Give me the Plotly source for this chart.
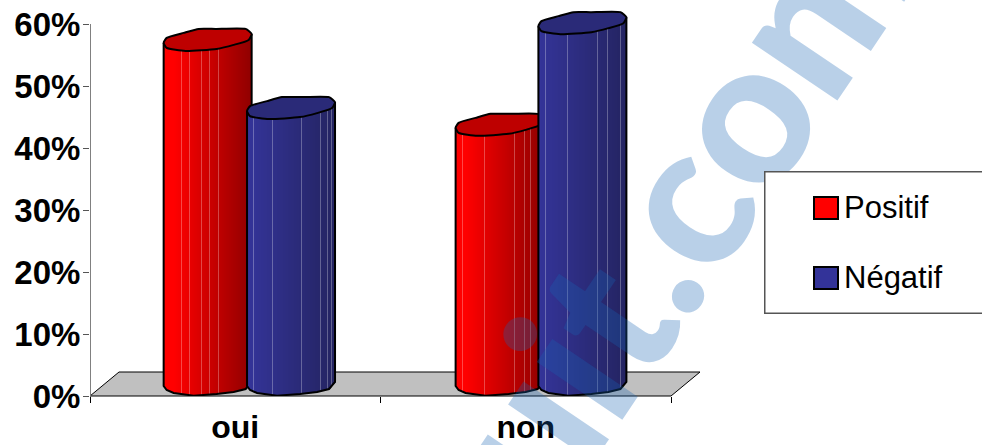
import numpy as np
import plotly.graph_objects as go

# Survey shares per answer, in percent
categories = ["oui", "non"]
series_names = ["Positif", "Négatif"]
positif = [55.5, 41.8]
negatif = [44.5, 58.2]
y_ticks = [0, 10, 20, 30, 40, 50, 60]

# Canvas geometry: one percent is PX_Y pixels tall, the axis stops at 60 %
W, H = 982, 445
LEFT, RIGHT, TOP, BOTTOM = 90, 671, 0, 396
PX_X = (RIGHT - LEFT) / 2
PX_Y = 6.2
FONT = "Liberation Sans"

# Hand-cut outline of a column, in pixels from its centre (y grows downward)
CAP_X = [-44, -41, -24, -9, 8, 38, 44, 41, 26, 9, -22, -41, -44]
CAP_Y = [3, -2, -7, -11, -11, -11, -6, 0, 5, 9, 11, 8, 3]
FOOT_X = [-44, -41, -34, -14, 0, 9, 26, 38, 44]
FOOT_Y = [2, 6, 9, 11.7, 11, 10, 8, 5, -2]
HALF = 44
BASE = 12 / PX_Y


def xp(px):
    return (px - LEFT) / (RIGHT - LEFT)


def yp(py):
    return (BOTTOM - py) / (BOTTOM - TOP)


def mix_white(rgb, k):
    return tuple(c + (255 - c) * k for c in rgb)


def css(rgb):
    return "rgb({:.0f},{:.0f},{:.0f})".format(*rgb)


def red_shade(t):
    return (255 if t < 0.12 else 255 - 110 * (t - 0.12) / 0.88, 0, 0)


def blue_shade(t):
    return (52 - 16 * t, 52 - 16 * t, 153 - 55 * t)


def cylinder(center, value, shade, cap, facets, z):
    """One 3D column: a bar per pixel column for the shading, then outline and cap."""
    top = BASE + value
    n = HALF * 2
    offs = np.arange(n) + 0.5 - HALF
    xs = center + offs / PX_X
    tops = top + (1.5 + 4.5 * offs / HALF) / PX_Y
    bases = BASE - np.interp(offs, FOOT_X, FOOT_Y) / PX_Y
    colors = []
    for i in range(n):
        c = shade(i / (n - 1))
        colors.append(css(mix_white(c, 0.28) if i in facets else c))
    shared = dict(cliponaxis=False, zorder=z, showlegend=False, hoverinfo="skip")
    traces = [go.Bar(x=xs, y=tops - bases, base=bases, width=1.02 / PX_X,
                     marker=dict(color=colors, line=dict(width=0)), **shared)]
    # side walls and rounded foot
    ox = np.r_[-HALF, FOOT_X, HALF]
    oy = np.r_[top - 3 / PX_Y, BASE - np.array(FOOT_Y) / PX_Y, top + 6 / PX_Y]
    traces.append(go.Scatter(x=center + ox / PX_X, y=oy, mode="lines",
                             line=dict(color="black", width=2), **shared))
    # top face
    traces.append(go.Scatter(x=center + np.array(CAP_X) / PX_X,
                             y=top - np.array(CAP_Y) / PX_Y,
                             mode="lines", fill="toself", fillcolor=cap,
                             line=dict(color="black", width=2, shape="spline", smoothing=0.5),
                             **shared))
    return traces


fig = go.Figure()

columns = [
    (0.405, positif[0], red_shade, "#BE0000", {18, 26, 38, 46, 55}, 1),
    (0.692, negatif[0], blue_shade, "#2A2A78", {6, 25, 54, 73, 80, 84}, 2),
    (1.410, positif[1], red_shade, "#BE0000", {7, 29, 59, 69, 75}, 3),
    (1.695, negatif[1], blue_shade, "#2A2A78", {7, 29, 59, 69, 82}, 4),
]
for col in columns:
    for tr in cylinder(*col):
        fig.add_trace(tr)

# Grey floor of the 3D plot and the value axis line, which ends at the top tick
floor = "M {} {} L {} {} L {} {} L {} {} Z".format(
    xp(90), yp(396), xp(119), yp(372), xp(700), yp(372), xp(671), yp(396))
shapes = [
    dict(type="path", path=floor, xref="paper", yref="paper", layer="below",
         fillcolor="#C0C0C0", line=dict(color="black", width=1)),
    dict(type="line", x0=0, x1=0, y0=0, y1=y_ticks[-1], xref="x", yref="y", layer="below",
         line=dict(color="#808080", width=2)),
]

annotations = [
    # Diagonal site watermark
    dict(text="gratuit.com", x=xp(575), y=yp(352), xref="paper", yref="paper",
         xanchor="center", yanchor="middle", textangle=-56, showarrow=False,
         font=dict(family="Lato", size=200, color="rgba(22,98,178,0.3)", weight=900)),
    # Opaque legend panel, running off the right edge
    dict(text=" ", x=xp(764), y=yp(171), xref="paper", yref="paper",
         xanchor="left", yanchor="top", showarrow=False, width=226, height=140,
         bgcolor="white", bordercolor="#555555", borderwidth=1.5, borderpad=0,
         font=dict(size=10)),
]
for name, col, cy in zip(series_names, ["#FF0000", "#333399"], [207.5, 277.5]):
    annotations.append(dict(text=" ", x=xp(826), y=yp(cy), xref="paper", yref="paper",
                            xanchor="center", yanchor="middle", showarrow=False,
                            width=22, height=20, bgcolor=col, bordercolor="black",
                            borderwidth=2, borderpad=0, font=dict(size=10)))
    annotations.append(dict(text=name, x=xp(843), y=yp(cy), xref="paper", yref="paper",
                            xanchor="left", yanchor="middle", showarrow=False,
                            borderpad=0, font=dict(family=FONT, size=31, color="black")))

fig.update_layout(
    width=W, height=H,
    margin=dict(l=LEFT, r=W - RIGHT, t=TOP, b=H - BOTTOM, pad=0),
    paper_bgcolor="white", plot_bgcolor="rgba(0,0,0,0)",
    barmode="overlay", showlegend=False,
    shapes=shapes, annotations=annotations,
    font=dict(family=FONT, color="black"),
    xaxis=dict(range=[0, 2], tickmode="array", tickvals=[0.5, 1.5], ticktext=categories,
               ticks="", showgrid=False, zeroline=False, showline=True, linecolor="black",
               linewidth=1, tickfont=dict(family=FONT, size=32, weight="bold"),
               ticklabelstandoff=3, automargin=False,
               minor=dict(tickmode="array", tickvals=[0, 1, 2], ticks="outside",
                          ticklen=6, tickcolor="black", tickwidth=1, showgrid=False)),
    yaxis=dict(range=[0, BOTTOM / PX_Y], tickmode="array", tickvals=y_ticks,
               ticktext=["{}%".format(v) for v in y_ticks],
               ticks="outside", ticklen=6, tickwidth=1, tickcolor="#555555",
               showgrid=False, zeroline=False, showline=False,
               tickfont=dict(family=FONT, size=33, weight="bold"),
               ticklabelstandoff=-4, automargin=False),
)

fig.write_html("out.html", config=dict(displayModeBar=False))
